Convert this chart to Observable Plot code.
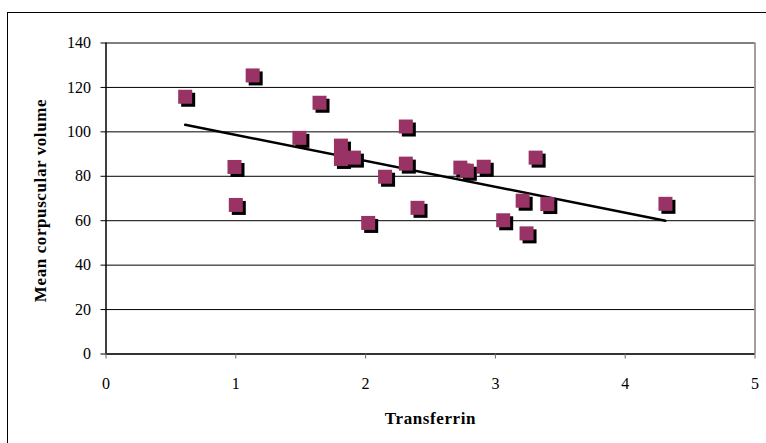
<!DOCTYPE html>
<html>
<head>
<meta charset="utf-8">
<script src="https://cdn.jsdelivr.net/npm/d3@7"></script>
<script src="https://cdn.jsdelivr.net/npm/@observablehq/plot@0.6"></script>
<style>
  html, body { margin: 0; padding: 0; background: #fff; overflow: hidden; }
  #wrap { position: relative; width: 766px; height: 443px; }
  #border { position: absolute; left: 7px; top: 12px; width: 800px; height: 500px; border: 1px solid #000; box-sizing: border-box; }
  #chart { position: absolute; left: 0; top: 0; }
  .axlabel text { letter-spacing: 0.6px; }
</style>
</head>
<body>
<div id="wrap"><div id="border"></div><div id="chart"></div></div>
<script>
const transferrin = [0.61, 1.13, 1.645, 1.49, 1.81, 1.81, 1.91, 0.99, 2.15, 2.31, 2.31, 1.00, 2.02, 2.40, 2.73, 2.78, 2.91, 3.31, 3.21, 3.40, 4.31, 3.06, 3.24];
const mcv = [115.8, 125.4, 113.1, 97.3, 93.8, 87.8, 88.4, 84.2, 79.8, 102.4, 85.7, 67.1, 59.0, 65.8, 83.9, 82.5, 84.3, 88.4, 69.0, 67.5, 67.6, 60.2, 54.3];
const xTicks = [0, 1, 2, 3, 4, 5];
const yTicks = [0, 20, 40, 60, 80, 100, 120, 140];
const xLabel = "Transferrin";
const yLabel = "Mean corpuscular volume";

const data = transferrin.map((t, i) => ({x: t, y: mcv[i]}));
const font = "'Liberation Serif', 'DejaVu Serif', serif";

const chart = Plot.plot({
  width: 766,
  height: 443,
  marginLeft: 105.5,
  marginRight: 11.5,
  marginTop: 42.5,
  marginBottom: 89.5,
  style: {fontFamily: font, fontSize: "16px", color: "#000", background: "transparent"},
  x: {domain: [0, 5]},
  y: {domain: [0, 140]},
  marks: [
    Plot.gridY(yTicks, {stroke: "#000", strokeOpacity: 1, strokeWidth: 1}),
    Plot.ruleX([5], {stroke: "#808080", strokeWidth: 1.5}),
    Plot.ruleX([0], {stroke: "#000", strokeWidth: 1.5}),
    Plot.ruleY([0], {stroke: "#333", strokeWidth: 2}),
    Plot.axisY(yTicks, {tickSize: 5, tickPadding: 10, label: null, fontSize: 16, tickFormat: d => String(d)}),
    Plot.axisX(xTicks, {tickSize: 5, tickPadding: 19, label: null, fontSize: 16, stroke: "#666", tickFormat: d => String(d)}),
    Plot.linearRegressionY(data, {x: "x", y: "y", ci: 0, stroke: "#000", strokeWidth: 2.5}),
    Plot.dot(data, {x: "x", y: "y", symbol: "square", r: 7.9, fill: "#000", stroke: "none", dx: 3, dy: 3}),
    Plot.dot(data, {x: "x", y: "y", symbol: "square", r: 7.9, fill: "#993366", stroke: "none"}),
    Plot.text([xLabel], {frameAnchor: "bottom", dy: 64.5, lineAnchor: "middle", fontWeight: "bold", fontSize: 17, className: "axlabel"}),
    Plot.text([yLabel], {frameAnchor: "left", dx: -65.5, dy: 2, rotate: -90, lineAnchor: "middle", textAnchor: "middle", fontWeight: "bold", fontSize: 17, className: "axlabel"})
  ]
});
document.getElementById("chart").appendChild(chart);
</script>
</body>
</html>
